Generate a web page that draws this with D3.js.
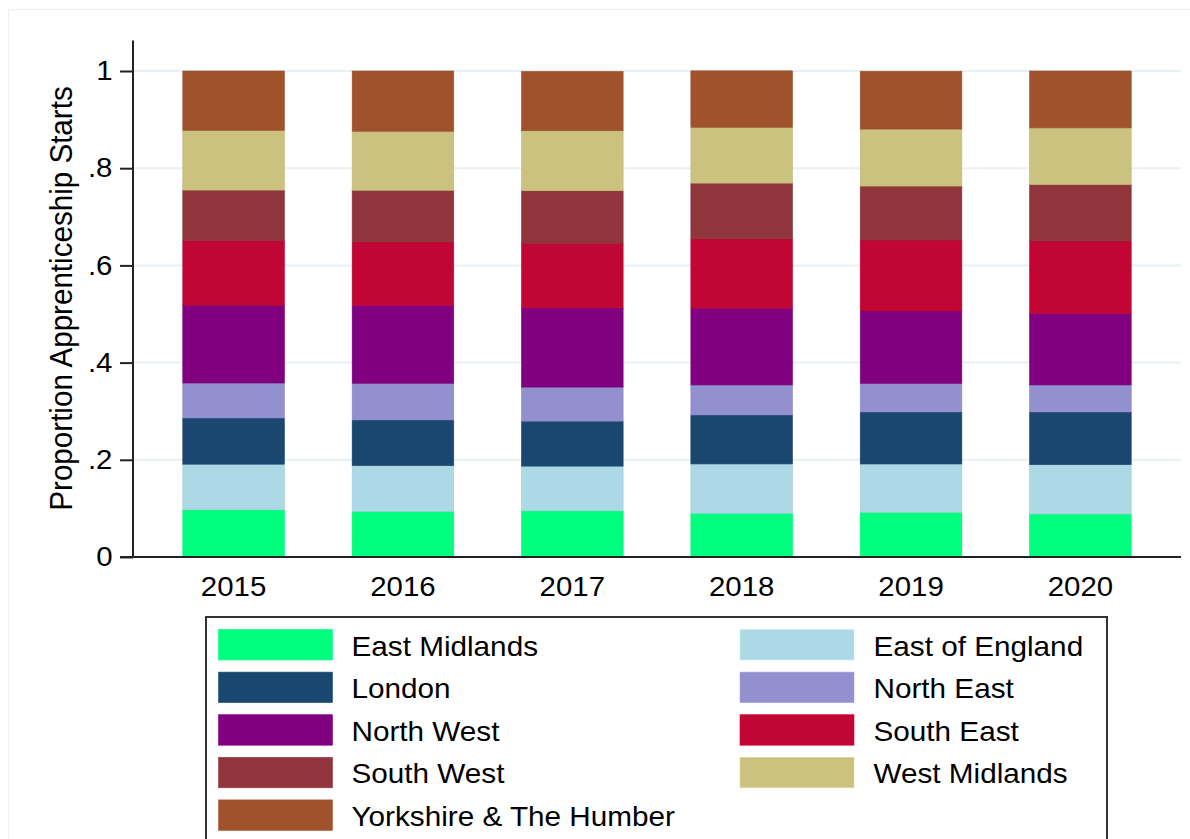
<!DOCTYPE html>
<html>
<head>
<meta charset="utf-8">
<script src="https://cdn.jsdelivr.net/npm/d3@7"></script>
<style>
  html, body { margin: 0; padding: 0; background: #fff; }
  svg { display: block; font-family: "Liberation Sans", Arial, sans-serif; }
</style>
</head>
<body>
<svg id="chart" width="1190" height="839"></svg>
<script>
const years = ["2015", "2016", "2017", "2018", "2019", "2020"];
const regions = ["East Midlands", "East of England", "London", "North East", "North West",
                 "South East", "South West", "West Midlands", "Yorkshire & The Humber"];
const colors = ["#00ff7f", "#add8e6", "#1a476f", "#9390d0", "#800080",
                "#c10534", "#90353b", "#cac27e", "#a0522d"];
const eastMidlands   = [0.097, 0.094, 0.095, 0.090, 0.092, 0.0885];
const eastOfEngland  = [0.094, 0.094, 0.092, 0.1015, 0.0994, 0.1015];
const london         = [0.095, 0.094, 0.0926, 0.1008, 0.107, 0.1084];
const northEast      = [0.072, 0.0755, 0.070, 0.0617, 0.059, 0.0556];
const northWest      = [0.160, 0.160, 0.163, 0.158, 0.1488, 0.1467];
const southEast      = [0.133, 0.131, 0.133, 0.1426, 0.146, 0.1496];
const southWest      = [0.104, 0.106, 0.108, 0.1147, 0.111, 0.116];
const westMidlands   = [0.123, 0.1215, 0.1235, 0.115, 0.1173, 0.1167];
const yorkshire      = [0.122, 0.124, 0.122, 0.116, 0.119, 0.117];
const yTicks = [0, 0.2, 0.4, 0.6, 0.8, 1];
const yTickLabels = ["0", ".2", ".4", ".6", ".8", "1"];
const yTitle = "Proportion Apprenticeship Starts";

const seriesValues = [eastMidlands, eastOfEngland, london, northEast, northWest,
                      southEast, southWest, westMidlands, yorkshire];

// Build table
const table = years.map((yr, i) => {
  const row = { year: yr };
  regions.forEach((r, k) => { row[r] = seriesValues[k][i]; });
  return row;
});
const stacked = d3.stack().keys(regions)(table);

const svg = d3.select("#chart");
const STRETCH = 1.09;

// outer faint frame
svg.append("rect").attr("x", 8.5).attr("y", 9.5).attr("width", 1200).attr("height", 900)
  .attr("fill", "none").attr("stroke", "#eef1f3").attr("stroke-width", 1);

const x = d3.scaleBand().domain(years).range([133, 1181]).paddingInner(0.4).paddingOuter(0.294);
const y = d3.scaleLinear().domain([0, 1]).range([557, 71]);

// gridlines
svg.append("g").selectAll("line").data(yTicks.filter(d => d > 0)).join("line")
  .attr("x1", 133).attr("x2", 1181)
  .attr("y1", d => y(d)).attr("y2", d => y(d))
  .attr("stroke", "#e8f0f3").attr("stroke-width", 2);

// bars
svg.append("g").selectAll("g").data(stacked).join("g")
  .attr("fill", (d, i) => colors[i])
  .attr("stroke", (d, i) => d3.color(colors[i]).darker(0.15))
  .attr("stroke-width", 0.6)
  .selectAll("rect").data(d => d).join("rect")
  .attr("x", d => x(d.data.year))
  .attr("width", x.bandwidth())
  .attr("y", d => y(d[1]))
  .attr("height", d => y(d[0]) - y(d[1]));

// y axis
const yAxis = d3.axisLeft(y).tickValues(yTicks)
  .tickFormat((d, i) => yTickLabels[i]).tickSize(13).tickPadding(7).tickSizeOuter(0);
const gy = svg.append("g").attr("transform", "translate(133,0)").call(yAxis);
gy.select(".domain").remove();
gy.selectAll(".tick line").attr("stroke", "#222").attr("stroke-width", 2);
gy.selectAll(".tick text").attr("font-size", 27).attr("fill", "#000")
  .attr("font-family", "Liberation Sans, Arial, sans-serif")
  .attr("x", 0).attr("transform", `translate(-20.5,0) scale(${STRETCH},1)`);
svg.append("line").attr("x1", 133).attr("x2", 133).attr("y1", 40.5).attr("y2", 558)
  .attr("stroke", "#222").attr("stroke-width", 2);

// x axis
const xAxis = d3.axisBottom(x).tickSize(0).tickPadding(20);
const gx = svg.append("g").attr("transform", "translate(0,557)").call(xAxis);
gx.select(".domain").remove();
gx.selectAll(".tick text").attr("font-size", 27).attr("fill", "#000")
  .attr("font-family", "Liberation Sans, Arial, sans-serif")
  .attr("transform", `scale(${STRETCH},1)`);
svg.append("line").attr("x1", 120).attr("x2", 1181).attr("y1", 557).attr("y2", 557)
  .attr("stroke", "#222").attr("stroke-width", 2);

// y title
svg.append("text")
  .attr("transform", "translate(71.5,298.5) scale(1.08,1) rotate(-90)")
  .attr("text-anchor", "middle")
  .attr("font-size", 29.6)
  .attr("fill", "#000")
  .text(yTitle);

// legend
svg.append("rect").attr("x", 206).attr("y", 617).attr("width", 901).attr("height", 260)
  .attr("fill", "#fff").attr("stroke", "#333").attr("stroke-width", 2);

const legendItems = regions.map((r, i) => ({ name: r, color: colors[i], col: i % 2, row: Math.floor(i / 2) }));
const lg = svg.append("g").selectAll("g").data(legendItems).join("g")
  .attr("transform", d => `translate(${d.col === 0 ? 218.5 : 740},${629.5 + d.row * 42.6})`);
lg.append("rect").attr("width", 114).attr("height", 30.5)
  .attr("fill", d => d.color)
  .attr("stroke", d => d3.color(d.color).brighter(0.3)).attr("stroke-width", 0.6);
lg.append("text")
  .attr("transform", d => `translate(${d.col === 0 ? 133 : 133.5},26) scale(1.1,1)`)
  .attr("font-size", 27).attr("fill", "#000").text(d => d.name);
</script>
</body>
</html>
